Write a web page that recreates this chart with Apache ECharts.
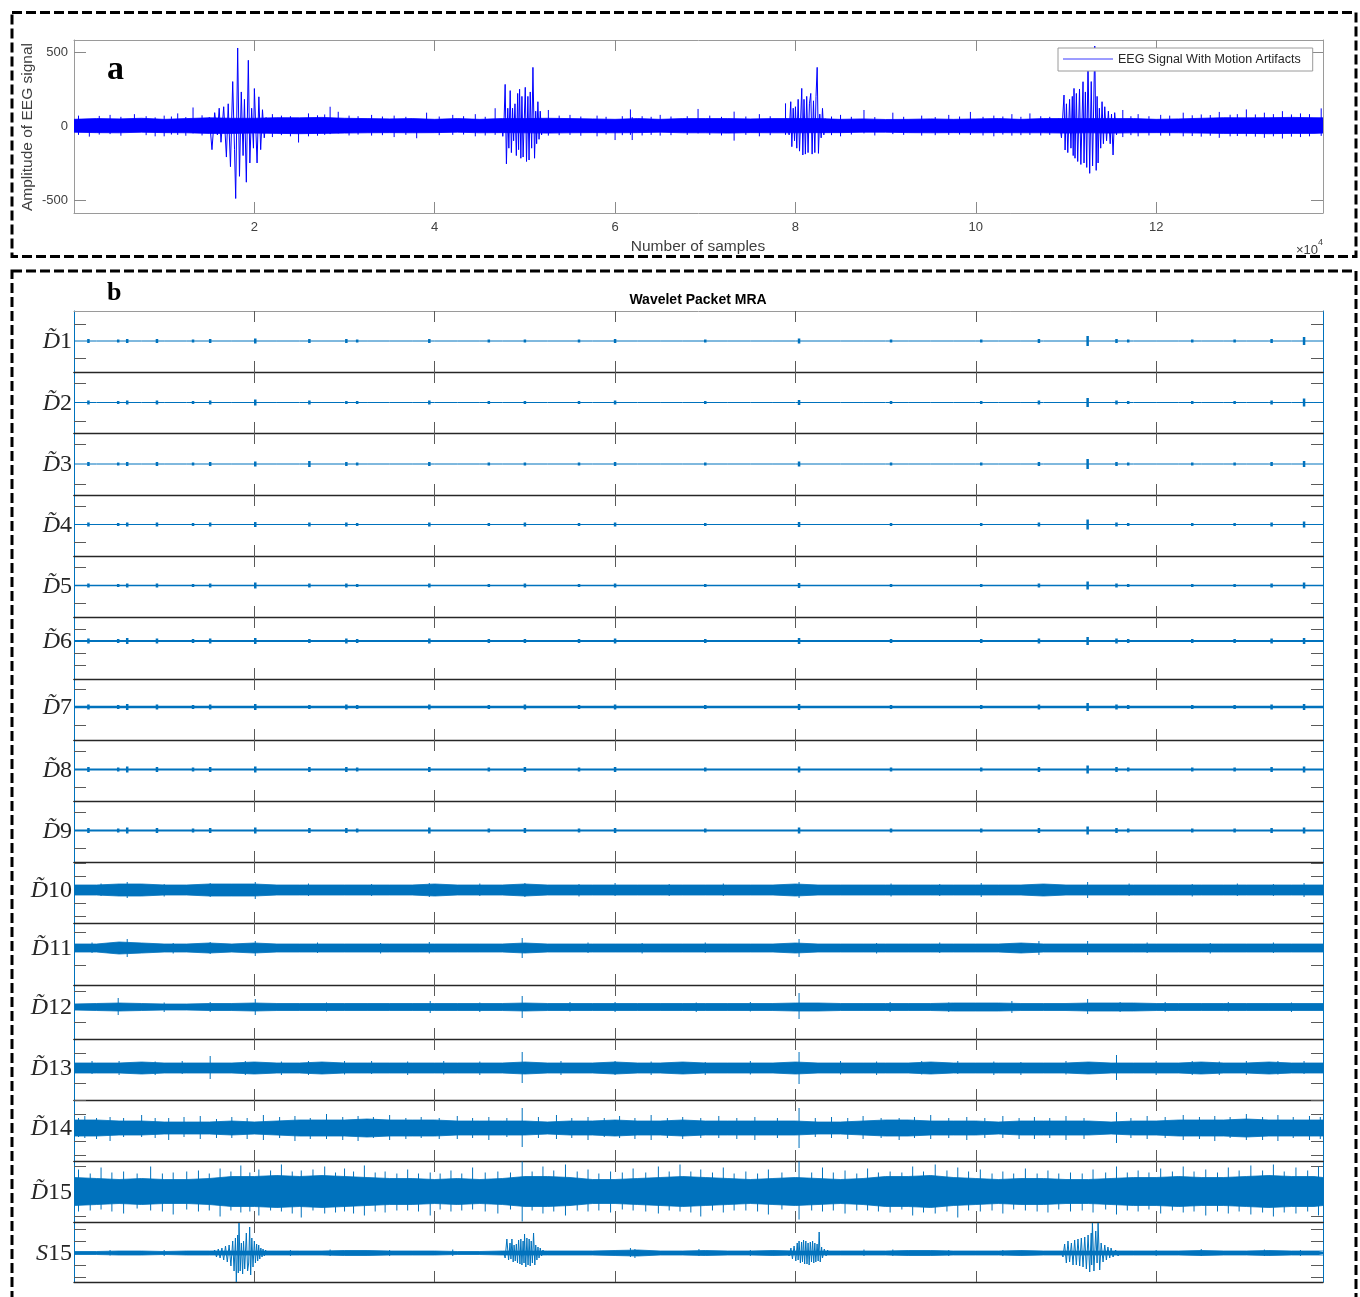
<!DOCTYPE html>
<html>
<head>
<meta charset="utf-8">
<script src="https://cdn.jsdelivr.net/npm/echarts@6/dist/echarts.min.js"></script>
<style>
  html, body { margin: 0; padding: 0; background: #fff; }
  #chart { width: 1360px; height: 1297px; }
</style>
</head>
<body>
<div id="chart"></div>
<script>
// EEG signal (a) and its wavelet packet MRA (b)
// x in units of 1e4 samples; row amplitudes in arbitrary units

const X_MAX = 13.85;
const xTicks = [2, 4, 6, 8, 10, 12];
const eegYTicks = [-500, 0, 500];

// sample positions of the envelope arrays
const envX = [
  0, 0.25, 0.5, 0.75, 1, 1.25, 1.5, 1.75, 2, 2.25,
  2.5, 2.75, 3, 3.25, 3.5, 3.75, 4, 4.25, 4.5, 4.75,
  5, 5.25, 5.5, 5.75, 6, 6.25, 6.5, 6.75, 7, 7.25,
  7.5, 7.75, 8, 8.25, 8.5, 8.75, 9, 9.25, 9.5, 9.75,
  10, 10.25, 10.5, 10.75, 11, 11.25, 11.5, 11.75, 12, 12.25,
  12.5, 12.75, 13, 13.25, 13.5, 13.75, 13.85
];

// ---- (a) EEG signal with motion artifacts ----
const eegHi = [
  45, 50, 48, 52, 45, 50, 55, 52, 52, 56,
  55, 58, 52, 50, 48, 50, 45, 50, 45, 50,
  50, 52, 50, 48, 45, 50, 45, 50, 50, 50,
  48, 50, 50, 50, 45, 48, 44, 45, 48, 45,
  48, 50, 45, 50, 50, 50, 50, 50, 45, 48,
  52, 56, 55, 56, 58, 56, 55
];
const eegLo = [
  -42, -45, -46, -42, -45, -46, -50, -50, -48, -50,
  -52, -50, -48, -46, -45, -46, -45, -42, -46, -45,
  -46, -48, -46, -45, -46, -45, -42, -46, -46, -48,
  -45, -46, -46, -45, -45, -42, -42, -45, -46, -45,
  -46, -45, -46, -46, -48, -46, -48, -46, -45, -46,
  -48, -50, -50, -52, -50, -50, -48
];
// [x, top, bottom] of spikes reaching out of the noise band
const eegSpikes = [
  [0.05, 70, -60], [0.17, 40, -72], [0.28, 68, -58], [0.4, 75, -55], [0.52, 62, -66], [0.67, 80, -40],
  [0.8, 66, -62], [0.9, 58, -70], [1.0, 70, -70], [1.08, 64, -58], [1.15, 85, -60], [1.24, 60, -66],
  [1.32, 125, -50], [1.42, 72, -64], [2.2, 80, -75], [2.3, 70, -62], [2.4, 66, -70], [2.49, 50, -112],
  [2.6, 85, -70], [2.7, 72, -66], [2.78, 78, -60], [2.84, 130, -55], [2.93, 96, -50], [3.05, 70, -64],
  [3.15, 66, -58], [3.3, 75, -65], [3.42, 64, -62], [3.55, 70, -75], [3.68, 62, -60], [3.8, 45, -83],
  [3.91, 90, -40], [4.05, 64, -62], [4.2, 75, -60], [4.32, 66, -58], [4.45, 80, -70], [4.56, 62, -64],
  [4.67, 120, -60], [5.26, 108, -65], [5.38, 70, -62], [5.5, 75, -60], [5.62, 64, -66], [5.8, 70, -70],
  [5.9, 62, -58], [6.0, 40, -95], [6.08, 66, -62], [6.17, 112, -60], [6.19, 60, -95], [6.3, 66, -64],
  [6.4, 62, -60], [6.5, 75, -65], [6.62, 64, -62], [6.8, 66, -60], [6.92, 115, -50], [7.05, 70, -60],
  [7.18, 62, -64], [7.32, 97, -99], [7.45, 64, -60], [7.6, 80, -70], [7.72, 66, -62], [7.89, 153, -60],
  [8.4, 64, -62], [8.5, 75, -70], [8.62, 62, -58], [8.76, 108, -50], [8.88, 60, -64], [9.08, 90, -55],
  [9.2, 62, -60], [9.4, 70, -65], [9.55, 60, -62], [9.7, 75, -60], [9.82, 64, -58], [9.94, 95, -60],
  [10.08, 62, -64], [10.2, 70, -70], [10.3, 64, -58], [10.4, 80, -65], [10.5, 62, -62], [10.6, 85, -60],
  [10.72, 66, -64], [10.82, 62, -60], [11.63, 108, -75], [11.72, 66, -62], [11.8, 80, -70], [11.92, 66, -64],
  [12.05, 75, -65], [12.15, 70, -66], [12.3, 90, -70], [12.4, 72, -68], [12.5, 78, -72], [12.6, 74, -66],
  [12.7, 95, -80], [12.82, 76, -70], [12.9, 80, -68], [13.0, 112, -70], [13.1, 78, -72], [13.2, 90, -80],
  [13.3, 80, -70], [13.4, 100, -85], [13.5, 78, -72], [13.6, 85, -75], [13.7, 80, -70], [13.83, 119, -67]
];
// motion artifact bursts, peak by peak
const eegBurst1 = [
  [1.50, 60], [1.53, -160], [1.56, 90], [1.59, -60], [1.61, 120], [1.63, -110], [1.66, 130],
  [1.69, -210], [1.71, 150], [1.735, -275], [1.76, 300], [1.78, -160], [1.793, -490],
  [1.815, 527], [1.835, -340], [1.855, 230], [1.875, -200], [1.89, 180], [1.911, -380],
  [1.933, 444], [1.95, -250], [1.97, 120], [1.99, -150], [2.0, 253], [2.03, -250],
  [2.05, 197], [2.07, -160], [2.09, 110], [2.11, -80], [2.13, 60]
];
const eegBurst2 = [
  [4.74, 40], [4.755, -70], [4.77, 60], [4.781, 281], [4.795, -256], [4.81, 120],
  [4.822, -150], [4.837, 239], [4.85, -180], [4.863, 120], [4.875, -100], [4.89, 150],
  [4.905, -200], [4.92, 220], [4.93, -160], [4.941, 248], [4.955, -218], [4.967, 200],
  [4.98, -210], [5.004, 261], [5.018, -240], [5.033, 200], [5.046, -230], [5.059, 230],
  [5.075, -150], [5.089, 396], [5.107, -218], [5.12, 100], [5.13, -120], [5.144, 164],
  [5.157, -90], [5.17, 100], [5.185, -60], [5.2, 40]
];
const eegBurst3 = [
  [7.90, 50], [7.93, -60], [7.948, 164], [7.96, -140], [7.975, 120], [7.99, -100],
  [8.0, 130], [8.015, -150], [8.03, 180], [8.045, -170], [8.07, 254], [8.082, -196],
  [8.095, 180], [8.11, -190], [8.125, 200], [8.14, -180], [8.155, 150], [8.17, 220],
  [8.185, -190], [8.2, 170], [8.215, -180], [8.228, 200], [8.241, 396], [8.255, -185],
  [8.27, 80], [8.285, -80], [8.30, 119], [8.315, -60], [8.33, 50]
];
const eegBurst4 = [
  [10.92, 50], [10.95, -80], [10.978, 209], [10.99, -162], [11.005, 150], [11.02, -180],
  [11.04, 180], [11.055, -150], [11.07, 200], [11.08, -200], [11.089, 254], [11.10, -218],
  [11.115, 220], [11.13, -240], [11.15, 250], [11.165, -260], [11.189, 299], [11.2, -250],
  [11.215, 230], [11.23, -280], [11.244, 445], [11.263, -320], [11.28, 300], [11.295, -270],
  [11.319, 540], [11.335, -300], [11.345, 200], [11.356, -250], [11.37, 120], [11.385, -150],
  [11.40, 164], [11.415, -120], [11.43, 130], [11.45, -100], [11.47, 100], [11.49, -120],
  [11.505, 80], [11.522, -196], [11.54, 90], [11.56, -60], [11.58, 40]
];

// ---- (b) wavelet packet MRA ----
const rowNames = ['1', '2', '3', '4', '5', '6', '7', '8', '9', '10', '11', '12', '13', '14', '15', 'S15'];

// D1..D9: flat traces with small bursts at these positions
const blipX = [0.16, 0.49, 0.59, 0.92, 1.32, 1.51, 2.01, 2.61, 3.02, 3.14, 3.94, 4.6, 5.0, 5.6,
  6.0, 7.0, 8.04, 9.06, 10.06, 10.7, 11.24, 11.56, 11.69, 12.4, 12.87, 13.28, 13.64];
const blipD1 = [2, 1.5, 2, 2, 1.5, 2, 2.5, 2, 2, 1.5, 2, 1.5, 1.5, 1.5, 2, 1.5, 2.5, 1.5, 1.5, 2, 5, 2, 1.5, 1.5, 1.5, 2, 4];
const blipD2 = [2, 1.5, 2, 2, 1.5, 2, 3, 2, 1.5, 1.5, 2, 1.5, 1.5, 1.5, 2, 1.5, 2.5, 1.5, 1.5, 2, 4.5, 2, 1.5, 1.5, 1.5, 2, 4];
const blipD3 = [2, 1.5, 2, 2, 1.5, 2, 2.5, 3, 2, 1.5, 2, 1.5, 1.5, 1.5, 2, 1.5, 2.5, 1.5, 1.5, 2, 5, 2, 1.5, 1.5, 1.5, 2, 3];
const blipD4 = [2, 1.5, 2, 2, 1.5, 2, 2.5, 2, 2, 1.5, 2, 1.5, 2, 1.5, 2, 1.5, 2.5, 1.5, 1.5, 2, 5, 2, 1.5, 1.5, 1.5, 2, 3];
const blipD5 = [2, 1.5, 2, 2, 1.5, 2, 3, 2, 2, 1.5, 2, 1.5, 2, 1.5, 2, 1.5, 2.5, 1.5, 1.5, 2, 4, 2, 1.5, 1.5, 1.5, 2, 3];
const blipD6 = [2.5, 2, 3, 2.5, 2, 2.5, 3, 2, 2.5, 2, 2.5, 2, 2, 2, 2.5, 2, 3, 2, 2, 2.5, 4, 2.5, 2, 2, 2, 2.5, 3];
const blipD7 = [2.5, 2, 3, 2.5, 2, 2.5, 3, 2, 2.5, 2, 2.5, 2, 2.5, 2, 2.5, 2, 3, 2, 2, 2.5, 4, 2.5, 2, 2, 2, 2.5, 3];
const blipD8 = [2.5, 2, 3, 2.5, 2, 2.5, 3, 2.5, 2.5, 2, 2.5, 2, 2.5, 2, 2.5, 2, 3, 2, 2, 2.5, 4, 2.5, 2, 2, 2, 2.5, 3];
const blipD9 = [2.5, 2, 3, 2.5, 2, 2.5, 3, 2.5, 2.5, 2, 3, 2, 2.5, 2, 2.5, 2, 3, 2, 2, 2.5, 4, 2.5, 2, 2, 2, 2.5, 3];

// D10..D15, S15: half-width of the dense band at envX
const envD10 = [
  5, 5, 6, 6, 5, 5, 6, 6, 6, 5,
  5, 5, 5, 5, 5, 5, 6, 5, 5, 5,
  6, 5, 5, 5, 5, 5, 5, 5, 5, 5,
  5, 5, 6, 5, 5, 5, 5, 5, 5, 5,
  5, 5, 5, 6, 5, 5, 5, 5, 5, 5,
  5, 5, 5, 5, 5, 5, 5
];
const envD11 = [
  4, 4, 6, 5, 4, 4, 5, 4, 5, 4,
  4, 4, 4, 4, 4, 4, 4, 4, 4, 4,
  5, 4, 4, 4, 4, 4, 4, 4, 4, 4,
  4, 4, 5, 4, 4, 4, 4, 4, 4, 4,
  4, 4, 5, 4, 4, 4, 4, 4, 4, 4,
  4, 4, 4, 4, 4, 4, 4
];
const envD12 = [
  3, 3.5, 4, 3.5, 3, 3, 3.5, 3.5, 4, 3.5,
  3.5, 3.5, 3.5, 3.5, 3.5, 3.5, 3.5, 3.5, 3.5, 3.5,
  4, 3.5, 3.5, 3.5, 3.5, 3.5, 3.5, 3.5, 3.5, 3.5,
  3.5, 3.5, 4, 4, 3.5, 3.5, 3.5, 3.5, 3.5, 4,
  4, 4, 3.5, 3.5, 3.5, 4, 4, 4, 3.5, 3.5,
  3.5, 3.5, 3.5, 3.5, 3.5, 3.5, 3.5
];
const envD13 = [
  5, 5, 5, 6, 5, 5, 5, 5, 6, 5,
  5, 6, 5, 5, 5, 5, 5, 5, 5, 5,
  6, 5, 5, 5, 6, 5, 5, 6, 5, 5,
  5, 5, 6, 5, 5, 5, 5, 5, 6, 5,
  5, 5, 5, 5, 5, 6, 5, 5, 5, 5,
  6, 5, 5, 6, 5, 5, 5
];
const envD14 = [
  8, 8, 7, 7, 6, 6, 6, 7, 6, 7,
  8, 8, 8, 9, 8, 8, 8, 7, 7, 7,
  7, 6, 7, 7, 8, 7, 7, 8, 7, 7,
  7, 7, 7, 6, 6, 7, 8, 8, 7, 7,
  7, 6, 7, 7, 7, 7, 6, 7, 7, 8,
  8, 8, 9, 8, 8, 8, 8
];
const envD15 = [
  14, 13, 12, 13, 12, 12, 13, 15, 15, 16,
  15, 16, 15, 14, 13, 13, 12, 13, 12, 13,
  15, 15, 14, 12, 12, 13, 14, 15, 14, 13,
  12, 13, 14, 13, 12, 13, 15, 15, 16, 14,
  13, 12, 13, 13, 12, 12, 13, 14, 14, 15,
  14, 14, 15, 16, 15, 15, 14
];
const envS15 = [
  1.5, 1.5, 2, 2, 1.5, 2, 2, 2, 2, 2,
  2, 2, 2.5, 2.5, 2, 2, 2, 1.5, 1.5, 2,
  2, 2, 2, 2, 2.5, 3, 2, 2, 2.5, 2,
  2, 2.5, 2, 2, 2, 2, 2, 2.5, 2.5, 2,
  2, 2, 2.5, 2, 2, 2, 2, 2, 2, 2,
  2.5, 2, 2, 2.5, 2, 2, 2
];

// [x, top, bottom] spikes sticking out of each band
const spikesD10 = [
  [0.3, 6.5, -6], [0.59, 8, -8], [1.0, 6, -6.5], [1.51, 7, -7], [2.01, 8, -9], [2.6, 6.5, -6],
  [3.3, 6, -6], [3.94, 7, -7], [4.5, 6.5, -6], [5.0, 7, -7], [5.6, 6, -6.5], [6.0, 7, -6],
  [6.6, 6, -6], [7.2, 6.5, -6], [8.04, 8, -8], [9.06, 6.5, -6.5], [9.6, 6, -6], [10.06, 7, -7],
  [11.24, 8, -8], [11.7, 6.5, -6], [12.4, 6, -6.5], [12.9, 6.5, -6], [13.3, 6, -6], [13.64, 7, -7]
];
const spikesD11 = [
  [0.2, 5.5, -5], [0.59, 9, -9], [1.1, 5, -5.5], [1.51, 6, -6], [2.01, 7, -8], [2.7, 5.5, -5],
  [3.4, 5, -5.5], [3.94, 6, -5.5], [4.97, 10, -10], [5.7, 5.5, -5], [6.3, 5, -5.5], [7.0, 5.5, -5],
  [8.04, 9, -9], [8.9, 5, -5.5], [9.6, 5.5, -5], [10.7, 7, -7], [11.24, 7, -7], [11.9, 5.5, -5],
  [12.6, 5, -5.5], [13.3, 5.5, -5]
];
const spikesD12 = [
  [0.49, 9, -8], [1.0, 4.5, -5], [1.51, 5, -5], [2.01, 8, -8], [2.8, 4.5, -4.5], [3.95, 6, -6],
  [4.5, 4.5, -5], [4.97, 11, -11], [5.5, 5, -4.5], [6.0, 5, -5], [6.9, 4.5, -5], [7.5, 5, -4.5],
  [8.04, 14, -12], [9.05, 5, -5], [9.7, 4.5, -5], [10.4, 6, -6], [11.24, 8, -7], [11.6, 5, -5],
  [12.1, 5, -5], [12.8, 5, -4.5], [13.5, 4.5, -5]
];
const spikesD13 = [
  [0.2, 7, -6], [0.5, 7, -7], [0.9, 6.5, -7], [1.2, 7, -6], [1.51, 12, -11], [1.9, 7, -7],
  [2.3, 6.5, -7], [2.6, 7, -7], [3.0, 7, -6.5], [3.3, 7, -6], [3.7, 6.5, -7], [4.1, 7, -6.5],
  [4.5, 6.5, -7], [4.97, 16, -15], [5.4, 7, -7], [6.0, 7, -7], [6.4, 6.5, -7], [7.0, 6, -7],
  [7.5, 7, -6.5], [8.04, 16, -16], [8.5, 7, -6.5], [8.9, 6.5, -7], [9.4, 7, -6.5], [9.8, 7, -6],
  [10.2, 6.5, -7], [10.5, 6, -7], [11.0, 7, -6.5], [11.56, 13, -12], [12.0, 7, -7], [12.4, 7, -7],
  [12.7, 6.5, -7], [13.0, 7, -7], [13.35, 7, -6.5], [13.64, 7, -6]
];
const spikesD14 = [
  [0.05, 10, -9], [0.12, 12, -10], [0.25, 10, -11], [0.4, 11, -13], [0.55, 10, -9], [0.75, 13, -9],
  [0.9, 10, -10], [1.05, 10, -12], [1.22, 11, -9], [1.4, 12, -11], [1.58, 9, -10], [1.75, 11, -10],
  [1.92, 10, -11], [2.1, 13, -12], [2.28, 11, -10], [2.45, 12, -13], [2.62, 10, -11], [2.8, 14, -11],
  [2.98, 11, -12], [3.15, 12, -13], [3.32, 11, -10], [3.5, 13, -12], [3.68, 10, -11], [3.85, 11, -10],
  [4.05, 10, -11], [4.25, 12, -11], [4.42, 10, -10], [4.6, 11, -12], [4.8, 10, -9], [4.97, 20, -19],
  [5.15, 11, -10], [5.35, 13, -11], [5.52, 10, -10], [5.7, 11, -12], [5.88, 10, -9], [6.05, 12, -10],
  [6.22, 10, -11], [6.4, 13, -12], [6.58, 10, -10], [6.75, 11, -11], [6.95, 10, -10], [7.15, 12, -10],
  [7.35, 10, -11], [7.55, 11, -12], [7.8, 10, -10], [8.04, 20, -20], [8.22, 10, -9], [8.4, 11, -10],
  [8.58, 10, -11], [8.75, 12, -11], [8.95, 10, -10], [9.15, 10, -12], [9.32, 11, -10], [9.5, 13, -11],
  [9.7, 10, -10], [9.9, 11, -12], [10.1, 10, -10], [10.3, 12, -10], [10.48, 10, -11], [10.65, 11, -11],
  [10.82, 10, -10], [11.0, 12, -12], [11.2, 10, -11], [11.56, 16, -15], [11.72, 10, -10], [11.9, 12, -11],
  [12.1, 11, -10], [12.3, 13, -12], [12.48, 11, -11], [12.65, 12, -13], [12.82, 11, -10], [13.0, 14, -12],
  [13.18, 11, -12], [13.35, 13, -13], [13.52, 11, -10], [13.7, 12, -12], [13.82, 11, -11]
];
const spikesD15 = [
  [0.05, 22, -20], [0.18, 18, -19], [0.3, 24, -18], [0.42, 19, -20], [0.55, 20, -22], [0.7, 18, -17],
  [0.85, 25, -19], [0.98, 18, -20], [1.1, 19, -23], [1.25, 20, -18], [1.38, 21, -20], [1.5, 18, -19],
  [1.62, 23, -25], [1.74, 20, -19], [1.85, 26, -21], [1.95, 19, -20], [2.05, 22, -24], [2.18, 21, -19],
  [2.3, 27, -20], [2.42, 20, -22], [2.52, 21, -26], [2.65, 22, -19], [2.78, 25, -22], [2.9, 19, -21],
  [3.0, 23, -20], [3.1, 20, -22], [3.22, 26, -24], [3.34, 19, -20], [3.45, 20, -21], [3.58, 18, -19],
  [3.7, 22, -19], [3.82, 18, -20], [3.95, 19, -24], [4.06, 18, -18], [4.18, 21, -20], [4.3, 18, -19],
  [4.42, 24, -18], [4.56, 19, -20], [4.7, 20, -22], [4.84, 19, -18], [4.97, 30, -30], [5.08, 20, -19],
  [5.2, 25, -22], [5.32, 21, -20], [5.45, 27, -24], [5.58, 20, -19], [5.7, 22, -20], [5.82, 18, -19],
  [5.95, 20, -21], [6.08, 19, -18], [6.2, 23, -19], [6.34, 19, -20], [6.48, 25, -22], [6.6, 20, -19],
  [6.72, 27, -20], [6.84, 20, -21], [6.95, 22, -25], [7.08, 19, -19], [7.2, 24, -21], [7.32, 18, -19],
  [7.45, 20, -19], [7.58, 18, -20], [7.7, 22, -23], [7.85, 19, -18], [8.04, 30, -28], [8.18, 19, -19],
  [8.3, 24, -20], [8.42, 19, -19], [8.55, 21, -22], [8.68, 18, -19], [8.8, 23, -19], [8.92, 19, -20],
  [9.05, 20, -21], [9.18, 19, -18], [9.3, 25, -24], [9.42, 20, -21], [9.55, 27, -22], [9.68, 21, -20],
  [9.8, 24, -26], [9.92, 20, -19], [10.05, 22, -20], [10.18, 18, -19], [10.3, 20, -22], [10.42, 18, -18],
  [10.55, 23, -19], [10.68, 18, -20], [10.8, 21, -21], [10.92, 18, -18], [11.05, 19, -20], [11.18, 18, -19],
  [11.3, 22, -21], [11.44, 19, -18], [11.56, 25, -23], [11.68, 19, -19], [11.8, 21, -20], [11.92, 19, -18],
  [12.05, 23, -22], [12.18, 20, -19], [12.3, 25, -21], [12.42, 20, -20], [12.55, 22, -24], [12.68, 19, -20],
  [12.8, 24, -22], [12.92, 21, -20], [13.05, 26, -23], [13.18, 21, -21], [13.3, 27, -25], [13.42, 20, -21],
  [13.55, 24, -22], [13.68, 21, -20], [13.8, 25, -24]
];
const spikesS15 = [
  [0.4, 3, -2.5], [1.0, 3, -3], [2.4, 3, -3], [2.84, 3.5, -3], [3.5, 3, -3], [4.2, 3.5, -3],
  [6.17, 5, -4], [6.22, 4, -5], [6.93, 4, -3], [7.5, 3, -3], [8.76, 3.5, -3], [9.08, 3.5, -3],
  [9.7, 3, -3], [10.3, 3, -3], [12.0, 3, -3], [12.5, 4, -3], [13.2, 3.5, -3], [13.6, 3, -3]
];

// S15 approximation: the artifact bursts, peak by peak
const s15Burst1 = [
  [1.50, 1], [1.53, -2], [1.56, 3], [1.58, -4], [1.60, 4], [1.62, -5], [1.64, 5], [1.66, -7],
  [1.68, 7], [1.70, -9], [1.72, 8], [1.74, -13], [1.76, 12], [1.775, -18], [1.79, 15], [1.80, -29],
  [1.815, 18], [1.822, -20], [1.83, 30], [1.843, -18], [1.856, 10], [1.87, -21], [1.88, 12],
  [1.893, -16], [1.911, 20], [1.925, -18], [1.937, -10], [1.948, 26], [1.959, -22], [1.972, 15],
  [1.985, -14], [2.0, 12], [2.012, -10], [2.025, 9], [2.037, -8], [2.048, 8], [2.06, -6], [2.072, 5],
  [2.085, -4], [2.096, 4], [2.11, -3], [2.125, 3], [2.14, -2], [2.155, 2]
];
const s15Burst2 = [
  [4.76, 2], [4.781, -5], [4.80, 14], [4.819, -7], [4.835, 10], [4.845, -6], [4.856, 14], [4.87, -9],
  [4.88, 8], [4.893, -8], [4.905, 9], [4.918, -10], [4.93, 13], [4.945, -11], [4.955, 14], [4.967, -12],
  [4.98, 12], [4.99, -10], [4.996, 19], [5.01, -14], [5.022, 15], [5.035, -12], [5.047, 14], [5.059, -13],
  [5.07, 12], [5.083, -10], [5.096, 20], [5.11, -12], [5.12, 8], [5.133, -7], [5.145, 6], [5.157, -5],
  [5.17, 5], [5.185, -3], [5.2, 3], [5.226, -2]
];
const s15Burst3 = [
  [7.90, 2], [7.93, -3], [7.95, 5], [7.967, -6], [7.985, 7], [8.004, -8], [8.02, 10], [8.03, -7],
  [8.04, 12], [8.055, -10], [8.068, 11], [8.078, -9], [8.09, 13], [8.102, -11], [8.115, 12], [8.128, -11],
  [8.14, 10], [8.152, -12], [8.165, 11], [8.178, -9], [8.19, 12], [8.203, -10], [8.215, 10], [8.226, -9],
  [8.24, 9], [8.252, -8], [8.263, 21], [8.275, -9], [8.29, 6], [8.3, -5], [8.32, 4], [8.34, -3],
  [8.356, 3], [8.38, -2], [8.41, 2]
];
const s15Burst4 = [
  [10.94, 2], [10.967, -4], [10.985, 9], [11.004, -10], [11.022, 12], [11.04, -9], [11.06, 10],
  [11.078, -12], [11.096, 13], [11.115, -12], [11.133, 14], [11.152, -13], [11.17, 15], [11.189, -14],
  [11.208, 16], [11.226, -16], [11.245, 18], [11.263, -19], [11.28, 20], [11.285, -12], [11.293, 30],
  [11.31, -18], [11.33, 22], [11.345, -10], [11.356, 30], [11.374, -17], [11.39, 10], [11.411, -9],
  [11.43, 8], [11.448, -7], [11.465, 6], [11.485, -5], [11.5, 5], [11.522, -4], [11.55, 3],
  [11.578, -3], [11.6, 2]
];

// y tick values of each row (drawn on both sides, no labels)
const rowTicks = [
  [17, -17], [19, -19], [20, -20], [18, -18], [18, -18], [12, -12, -24], [18, -18], [18, -18], [18, -18],
  [26.6, 13.3, -13.3, -26.6], [15.5, -17], [15.5, -15.5], [15, -15], [27.4, 13.7, -13.7, -27.4], [25, -25],
  [24, 12, -12, -24]
];

// ---------------- layout / style ----------------
const SANS = '"Liberation Sans", Arial, Helvetica, sans-serif';
const SERIF = '"Liberation Serif", "Times New Roman", serif';
const EEG = '#0000FF';
const SIG = '#0072BD';
const LEGEND_NAME = 'EEG Signal With Motion Artifacts';
const PLOT_L = 74, PLOT_W = 1249;
const rowTop = [311, 372, 433, 495, 556, 617, 679, 740, 801, 862, 923, 985, 1039, 1100, 1161, 1222];
const PLOT_B = 1282;
const rowZero = [341, 402.5, 464, 524.5, 585.5, 641, 707, 769.5, 830.5, 890, 948, 1007, 1068, 1128, 1191.5, 1253];
const baseWidth = [1, 1, 1, 1.2, 1.3, 2.2, 2.4, 2, 2];

const grids = [], xAxes = [], yAxes = [], series = [];

function addPanel(top, height, yMin, yMax, o) {
  const gi = grids.length;
  grids.push({ left: PLOT_L, top, width: PLOT_W, height, containLabel: false, outerBoundsMode: 'none' });
  const xBase = {
    type: 'value', gridIndex: gi, min: 0, max: X_MAX, interval: 2,
    splitLine: { show: false },
    axisTick: { show: true, inside: true, length: 11, customValues: xTicks, lineStyle: { color: o.tickColor, width: 1 } },
  };
  xAxes.push(Object.assign({}, xBase, {
    position: 'bottom',
    axisLine: { show: true, onZero: false, lineStyle: { color: o.bottomLine, width: o.bottomWidth } },
    axisLabel: o.xLabels
      ? { show: true, customValues: xTicks, color: '#404040', fontSize: 13, fontFamily: SANS, margin: 8 }
      : { show: false },
  }));
  xAxes.push(Object.assign({}, xBase, {
    position: 'top',
    axisLine: { show: true, onZero: false, lineStyle: { color: o.topLine, width: 1 } },
    axisLabel: { show: false },
  }));
  const yBase = {
    type: 'value', gridIndex: gi, min: yMin, max: yMax,
    splitLine: { show: false },
    axisTick: { show: true, inside: true, length: 12, customValues: o.yTicks, lineStyle: { color: o.tickColor, width: 1 } },
  };
  yAxes.push(Object.assign({}, yBase, {
    position: 'left',
    axisLine: { show: true, onZero: false, lineStyle: { color: o.sideLine, width: 1 } },
    axisLabel: o.yLabels
      ? { show: true, customValues: o.yTicks, color: '#404040', fontSize: 13, fontFamily: SANS, margin: 6 }
      : { show: false },
  }));
  yAxes.push(Object.assign({}, yBase, {
    position: 'right',
    axisLine: { show: true, onZero: false, lineStyle: { color: o.sideLine, width: 1 } },
    axisLabel: { show: false },
  }));
  return gi;
}

function lineSeries(gi, data, color, width, name) {
  return {
    type: 'line', name, xAxisIndex: 2 * gi, yAxisIndex: 2 * gi,
    data, symbol: 'none', silent: true,
    itemStyle: { color }, lineStyle: { color, width },
  };
}

// noise band: two filled halves plus a centre line so no seam shows
function bandSeries(gi, hi, lo, color) {
  const halves = [hi, lo].map((vals, k) => ({
    type: 'line', name: 'band' + gi + '_' + k, xAxisIndex: 2 * gi, yAxisIndex: 2 * gi,
    data: envX.map((x, i) => [x, vals[i]]), symbol: 'none', silent: true,
    itemStyle: { color }, lineStyle: { color, width: 0.8 },
    areaStyle: { color, opacity: 1 },
  }));
  halves.push(lineSeries(gi, envX.map((x) => [x, 0]), color, 2, 'mid' + gi));
  return halves;
}

function spikeSeries(gi, data, color, width) {
  return {
    type: 'custom', name: 'spikes' + gi, xAxisIndex: 2 * gi, yAxisIndex: 2 * gi,
    data, silent: true, clip: true, encode: { x: 0, y: [1, 2] },
    renderItem: (params, api) => {
      const a = api.coord([api.value(0), api.value(1)]);
      const b = api.coord([api.value(0), api.value(2)]);
      return {
        type: 'line',
        shape: { x1: a[0], y1: a[1], x2: b[0], y2: b[1] },
        style: { stroke: color, lineWidth: width },
      };
    },
  };
}

// ---- panel a ----
const gA = addPanel(40, 173, -588, 581, {
  tickColor: '#8a8a8a', bottomLine: '#9a9a9a', bottomWidth: 1, topLine: '#9a9a9a', sideLine: '#9a9a9a',
  xLabels: true, yLabels: true, yTicks: eegYTicks,
});
series.push(...bandSeries(gA, eegHi, eegLo, EEG));
series.push(spikeSeries(gA, eegSpikes, EEG, 1));
[eegBurst1, eegBurst2, eegBurst3, eegBurst4].forEach((b) => {
  series.push(lineSeries(gA, b, EEG, 1, LEGEND_NAME));
});

// ---- panel b ----
const blips = [blipD1, blipD2, blipD3, blipD4, blipD5, blipD6, blipD7, blipD8, blipD9];
const bands = [
  [envD10, spikesD10], [envD11, spikesD11], [envD12, spikesD12], [envD13, spikesD13],
  [envD14, spikesD14], [envD15, spikesD15], [envS15, spikesS15],
];

rowNames.forEach((nm, r) => {
  const top = rowTop[r];
  const bottom = r + 1 < rowTop.length ? rowTop[r + 1] : PLOT_B;
  const zero = rowZero[r];
  const gi = addPanel(top, bottom - top, -(bottom - zero), zero - top, {
    tickColor: '#5a5a5a', bottomLine: '#262626', bottomWidth: 1.3,
    topLine: r === 0 ? '#9a9a9a' : '#262626', sideLine: SIG,
    xLabels: false, yLabels: false, yTicks: rowTicks[r],
  });
  if (r < 9) {
    series.push(lineSeries(gi, envX.map((x) => [x, 0]), SIG, baseWidth[r], 'base' + gi));
    series.push(spikeSeries(gi, blipX.map((x, i) => [x, blips[r][i], -blips[r][i]]), SIG, 2.5));
  } else {
    const [env, spikes] = bands[r - 9];
    series.push(...bandSeries(gi, env, env.map((v) => -v), SIG));
    series.push(spikeSeries(gi, spikes, SIG, 1));
    if (nm === 'S15') {
      [s15Burst1, s15Burst2, s15Burst3, s15Burst4].forEach((b, k) => series.push(lineSeries(gi, b, SIG, 1, 'burst' + k)));
    }
  }
});

// ---- texts and frames ----
const graphics = [
  { type: 'rect', shape: { x: 12, y: 12.5, width: 1344, height: 244 }, style: { fill: 'none', stroke: '#000', lineWidth: 3, lineDash: [10, 4] } },
  { type: 'rect', shape: { x: 12, y: 271, width: 1344, height: 1040 }, style: { fill: 'none', stroke: '#000', lineWidth: 3, lineDash: [10, 4] } },
  { type: 'text', x: 107, y: 70, style: { text: 'a', font: 'bold 34px ' + SERIF, fill: '#000', verticalAlign: 'middle' } },
  { type: 'text', x: 107, y: 293, style: { text: 'b', font: 'bold 26px ' + SERIF, fill: '#000', verticalAlign: 'middle' } },
  { type: 'text', x: 698, y: 300, style: { text: 'Wavelet Packet MRA', font: 'bold 14px ' + SANS, fill: '#000', align: 'center', verticalAlign: 'middle' } },
  { type: 'text', x: 28, y: 127, rotation: Math.PI / 2, style: { text: 'Amplitude of EEG signal', font: '15.5px ' + SANS, fill: '#404040', align: 'center', verticalAlign: 'middle' } },
  { type: 'text', x: 698, y: 247, style: { text: 'Number of samples', font: '15.5px ' + SANS, fill: '#404040', align: 'center', verticalAlign: 'middle' } },
  { type: 'text', x: 1318, y: 250, style: { text: '\u00d710', font: '13px ' + SANS, fill: '#404040', align: 'right', verticalAlign: 'middle' } },
  { type: 'text', x: 1318, y: 243, style: { text: '4', font: '9px ' + SANS, fill: '#404040', align: 'left', verticalAlign: 'middle' } },
  // legend sample stroke, drawn over the (invisible) legend icon slot
  { type: 'line', z: 100, shape: { x1: 1063, y1: 59, x2: 1113, y2: 59 }, style: { stroke: '#3a3aff', lineWidth: 1 } },
];
rowNames.forEach((nm, r) => {
  const text = nm === 'S15' ? '{d|S}{n|15}' : '{d|D\u0303}{n|' + nm + '}';
  graphics.push({
    type: 'text', x: 72, y: rowZero[r] + 1,
    style: {
      text, align: 'right', verticalAlign: 'middle',
      rich: {
        d: { fontFamily: SERIF, fontStyle: 'italic', fontSize: 24, fill: '#262626' },
        n: { fontFamily: SERIF, fontSize: 24, fill: '#262626' },
      },
    },
  });
});

const chart = echarts.init(document.getElementById('chart'), null, { renderer: 'canvas' });
chart.setOption({
  animation: false,
  backgroundColor: '#fff',
  grid: grids,
  xAxis: xAxes,
  yAxis: yAxes,
  legend: {
    data: [LEGEND_NAME],
    left: 1058, top: 48,
    icon: 'rect', itemWidth: 50, itemHeight: 1, itemGap: 5,
    padding: [5, 12, 5, 5],
    backgroundColor: '#fff', borderColor: '#9a9a9a', borderWidth: 1, borderRadius: 0,
    itemStyle: { opacity: 0 },
    textStyle: { color: '#262626', fontSize: 12.5, fontFamily: SANS },
    selectedMode: false,
  },
  series,
  graphic: { elements: graphics },
});
</script>
</body>
</html>
